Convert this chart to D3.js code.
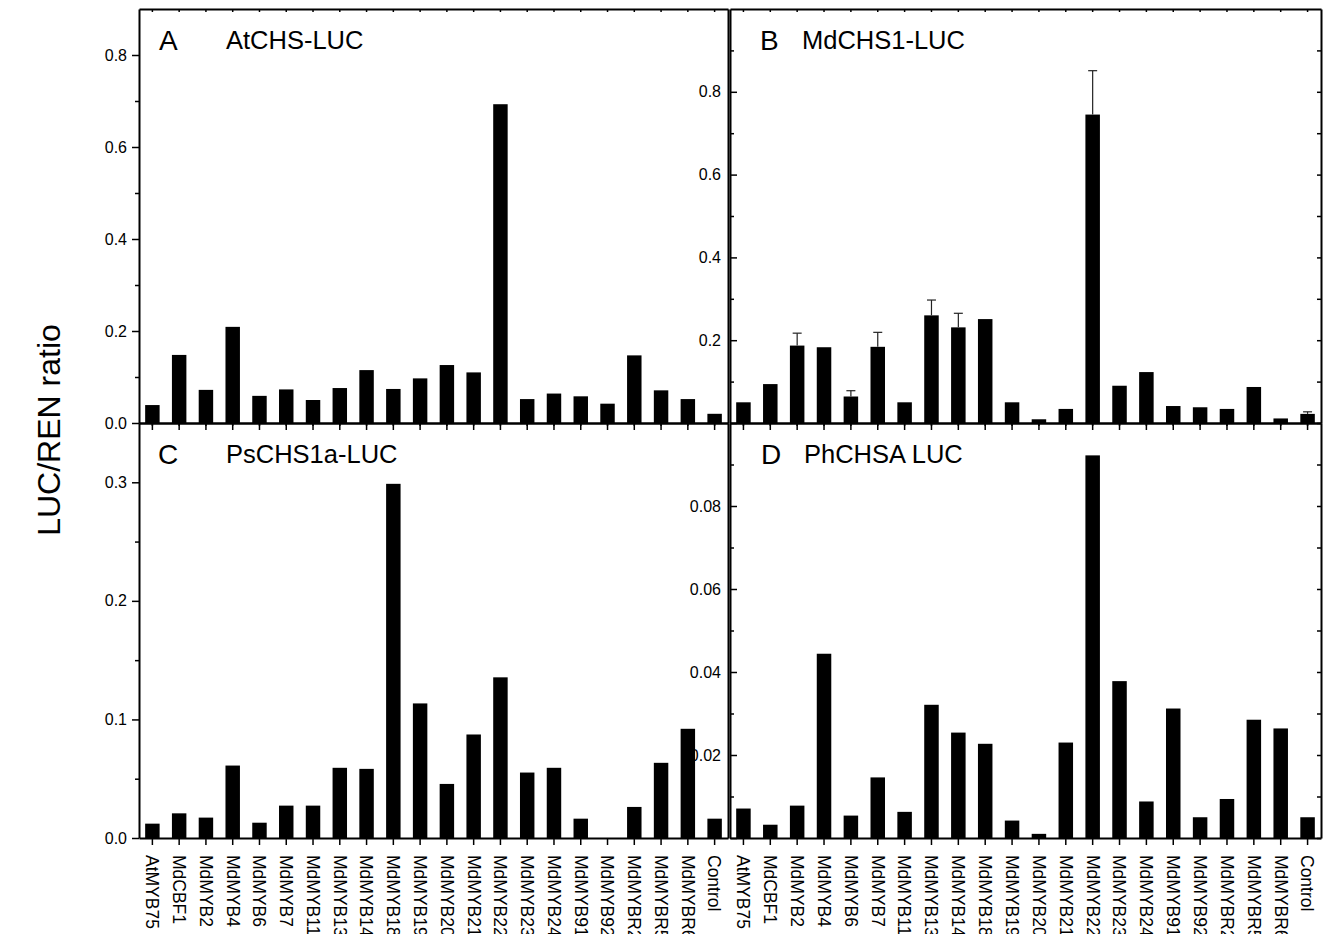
<!DOCTYPE html>
<html>
<head>
<meta charset="utf-8">
<script src="https://cdn.jsdelivr.net/npm/d3@7"></script>
<style>
  body { margin: 0; background: #fff; }
  svg { display: block; font-family: "Liberation Sans", Arial, sans-serif; }
</style>
</head>
<body>
<div id="chart"></div>
<script>
// categorias (mesmas nos quatro painéis)
const categories = ["AtMYB75", "MdCBF1", "MdMYB2", "MdMYB4", "MdMYB6", "MdMYB7", "MdMYB11",
  "MdMYB13", "MdMYB14", "MdMYB18", "MdMYB19", "MdMYB20", "MdMYB21", "MdMYB22", "MdMYB23",
  "MdMYB24", "MdMYB91", "MdMYB92", "MdMYBR2", "MdMYBR5", "MdMYBR6", "Control"];

// A  AtCHS-LUC
const valuesA = [0.039, 0.148, 0.072, 0.209, 0.059, 0.073, 0.050, 0.076, 0.115, 0.074, 0.097,
  0.126, 0.110, 0.693, 0.052, 0.064, 0.058, 0.042, 0.147, 0.071, 0.052, 0.020];

// B  MdCHS1-LUC (com barras de erro)
const valuesB = [0.050, 0.094, 0.187, 0.183, 0.064, 0.184, 0.050, 0.260, 0.231, 0.251, 0.050,
  0.009, 0.034, 0.745, 0.090, 0.123, 0.041, 0.038, 0.034, 0.087, 0.011, 0.022];
const errorsB = [0, 0, 0.030, 0, 0.014, 0.035, 0, 0.037, 0.034, 0, 0,
  0, 0, 0.106, 0, 0, 0, 0, 0, 0, 0, 0.005];

// C  PsCHS1a-LUC
const valuesC = [0.0121, 0.0208, 0.0172, 0.0611, 0.0129, 0.0273, 0.0273, 0.0592, 0.0583, 0.2987, 0.1135,
  0.0456, 0.0873, 0.1355, 0.0552, 0.0592, 0.0163, 0, 0.0262, 0.0634, 0.0921, 0.0163];

// D  PhCHSA LUC
const valuesD = [0.0071, 0.0032, 0.0078, 0.0444, 0.0054, 0.0146, 0.0063, 0.0321, 0.0254, 0.0227, 0.0042,
  0.0010, 0.0230, 0.0922, 0.0378, 0.0088, 0.0312, 0.0050, 0.0094, 0.0285, 0.0264, 0.0050];

const width = 1324, height = 934;

const svg = d3.select("#chart").append("svg")
  .attr("width", width)
  .attr("height", height);

// posições dos painéis
const leftX = [139, 728], rightX = [730, 1321];
const topY = [9, 423], bottomY = [423, 838];

const panels = [
  { letter: "B", title: "MdCHS1-LUC", xr: rightX, yr: topY, domain: [0, 1.0], values: valuesB, errors: errorsB,
    major: [0, 0.2, 0.4, 0.6, 0.8], minor: [0.1, 0.3, 0.5, 0.7, 0.9], fmt: d => d === 0 ? "" : d3.format(".1f")(d),
    inward: true, labels: false, letterX: 760, titleX: 802, baseY: 50 },
  { letter: "D", title: "PhCHSA LUC", xr: rightX, yr: bottomY, domain: [0, 0.1], values: valuesD,
    major: [0, 0.02, 0.04, 0.06, 0.08], minor: [0.01, 0.03, 0.05, 0.07, 0.09], fmt: d => d === 0 ? "" : d3.format(".2f")(d),
    inward: true, labels: true, letterX: 761, titleX: 804, baseY: 464 },
  { letter: "A", title: "AtCHS-LUC", xr: leftX, yr: topY, domain: [0, 0.9], values: valuesA,
    major: [0, 0.2, 0.4, 0.6, 0.8], minor: [0.1, 0.3, 0.5, 0.7], fmt: d3.format(".1f"),
    inward: false, labels: false, letterX: 159, titleX: 226, baseY: 50 },
  { letter: "C", title: "PsCHS1a-LUC", xr: leftX, yr: bottomY, domain: [0, 0.35], values: valuesC,
    major: [0, 0.1, 0.2, 0.3], minor: [0.05, 0.15, 0.25], fmt: d3.format(".1f"),
    inward: false, labels: true, letterX: 158, titleX: 226, baseY: 464 }
];

function styleAxis(g) {
  g.select(".domain").attr("stroke", "#000").attr("stroke-width", 2);
  g.selectAll(".tick line").attr("stroke", "#000").attr("stroke-width", 1.5);
  g.selectAll("text").attr("fill", "#000")
    .attr("font-family", "Liberation Sans, Arial, sans-serif");
}

function drawPanel(p) {
  const x = d3.scaleBand().domain(categories).range(p.xr).paddingInner(0.46).paddingOuter(0.23);
  const y = d3.scaleLinear().domain(p.domain).range([p.yr[1], p.yr[0]]);
  const g = svg.append("g");

  // barras
  g.append("g").selectAll("rect")
    .data(categories)
    .join("rect")
    .attr("x", (d, i) => x(d))
    .attr("y", (d, i) => y(p.values[i]))
    .attr("width", x.bandwidth())
    .attr("height", (d, i) => y(0) - y(p.values[i]))
    .attr("fill", "#000");

  // barras de erro (só no painel B)
  if (p.errors) {
    const eb = categories.map((c, i) => ({ c, v: p.values[i], e: p.errors[i] })).filter(d => d.e > 0);
    const cx = d => x(d.c) + x.bandwidth() / 2;
    g.append("g").selectAll("line.err").data(eb).join("line")
      .attr("x1", cx).attr("x2", cx)
      .attr("y1", d => y(d.v)).attr("y2", d => y(d.v + d.e))
      .attr("stroke", "#222").attr("stroke-width", 1.2);
    g.append("g").selectAll("line.cap").data(eb).join("line")
      .attr("x1", d => cx(d) - 4.5).attr("x2", d => cx(d) + 4.5)
      .attr("y1", d => y(d.v + d.e)).attr("y2", d => y(d.v + d.e))
      .attr("stroke", "#222").attr("stroke-width", 1.2);
  }

  // borda de cima e da direita
  g.append("g")
    .attr("transform", `translate(0,${p.yr[0]})`)
    .call(d3.axisTop(x).tickSize(-3).tickSizeOuter(0).tickFormat(""))
    .call(styleAxis);
  g.append("g")
    .attr("transform", `translate(${p.xr[1]},0)`)
    .call(d3.axisRight(y).tickValues(p.inward ? p.major.concat(p.minor) : []).tickSize(-4).tickSizeOuter(0).tickFormat(""))
    .call(styleAxis);

  // eixo y
  const tk = p.inward ? -7 : 7;
  g.append("g")
    .attr("transform", `translate(${p.xr[0]},0)`)
    .call(d3.axisLeft(y).tickValues(p.minor).tickSize(p.inward ? -4 : 4).tickFormat(""))
    .call(g => g.select(".domain").remove())
    .call(styleAxis);
  g.append("g")
    .attr("transform", `translate(${p.xr[0]},0)`)
    .call(d3.axisLeft(y).tickValues(p.major).tickSize(tk).tickSizeOuter(0)
      .tickPadding(p.inward ? 9 : 5).tickFormat(p.fmt))
    .call(styleAxis)
    .call(g => g.selectAll("text").attr("font-size", 16));

  // eixo x
  const xa = g.append("g")
    .attr("transform", `translate(0,${p.yr[1]})`)
    .call(d3.axisBottom(x).tickSize(7).tickSizeOuter(0).tickFormat(p.labels ? d => d : ""))
    .call(styleAxis);
  if (p.labels) {
    xa.selectAll("text")
      .attr("font-size", 17.5)
      .attr("y", 0)
      .attr("x", 17)
      .attr("dy", "0.35em")
      .attr("transform", "rotate(90)")
      .style("text-anchor", "start");
  }

  // letra e título
  g.append("text")
    .attr("x", p.letterX).attr("y", p.baseY)
    .attr("font-size", 28)
    .text(p.letter);
  g.append("text")
    .attr("x", p.titleX).attr("y", p.baseY - 1)
    .attr("font-size", 25.5)
    .text(p.title);
}

panels.forEach(drawPanel);

// título do eixo y
svg.append("text")
  .attr("transform", "translate(60,430) rotate(-90)")
  .attr("text-anchor", "middle")
  .attr("font-size", 32)
  .text("LUC/REN ratio");
</script>
</body>
</html>
